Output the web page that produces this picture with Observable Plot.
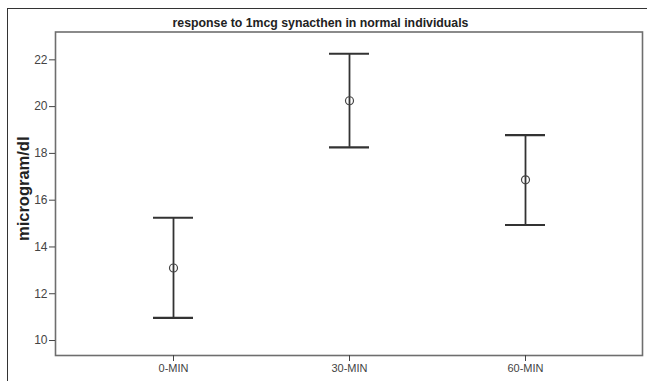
<!DOCTYPE html>
<html>
<head>
<meta charset="utf-8">
<script src="https://cdn.jsdelivr.net/npm/d3@7"></script>
<script src="https://cdn.jsdelivr.net/npm/@observablehq/plot@0.6"></script>
<style>
  html, body { margin: 0; padding: 0; background: #fff; overflow: hidden; }
  #wrap { position: relative; width: 647px; height: 381px; overflow: hidden; }
  #outer { position: absolute; left: 7px; top: 8px; width: 700px; height: 420px;
           border-left: 1.5px solid #333; border-top: 1.5px solid #333; }
  #title { position: absolute; left: -3px; top: 15.5px; width: 647px; text-align: center;
           font: bold 12.3px "Liberation Sans", Arial, sans-serif; color: #222; line-height: 14px; }
  #chart { position: absolute; left: 0; top: 0; }
</style>
</head>
<body>
<div id="wrap">
  <div id="outer"></div>
  <div id="chart"></div>
  <div id="title">response to 1mcg synacthen in normal individuals</div>
</div>
<script>
const times = ["0-MIN", "30-MIN", "60-MIN"];
const means = [13.1, 20.25, 16.87];
const lower = [10.97, 18.26, 14.94];
const upper = [15.25, 22.26, 18.78];
const yTicks = [10, 12, 14, 16, 18, 20, 22];
const yLabel = "microgram/dl";

const data = times.map((t, i) => ({t, m: means[i], lo: lower[i], hi: upper[i]}));

const chart = Plot.plot({
  width: 647,
  height: 381,
  marginLeft: 55,
  marginRight: 5,
  marginTop: 31.5,
  marginBottom: 26,
  style: {fontFamily: "'Liberation Sans', Arial, sans-serif", background: "transparent"},
  x: {type: "band", domain: times, paddingInner: 0.773, paddingOuter: 0.553, label: null},
  y: {domain: [9.36, 23.19], label: null},
  marks: [
    Plot.frame({stroke: "#6e6e6e", strokeWidth: 1.6}),
    Plot.axisY({ticks: yTicks, tickSize: 6, tickPadding: 2, fontSize: 12, color: "#444", label: null}),
    Plot.axisX({tickSize: 6, tickPadding: 3, fontSize: 11, color: "#444", label: null}),
    Plot.ruleX(data, {x: "t", y1: "lo", y2: "hi", stroke: "#333", strokeWidth: 1.8}),
    Plot.tickY(data, {x: "t", y: "lo", stroke: "#333", strokeWidth: 2.2}),
    Plot.tickY(data, {x: "t", y: "hi", stroke: "#333", strokeWidth: 2.2}),
    Plot.dot(data, {x: "t", y: "m", r: 4, stroke: "#444", fill: "none", strokeWidth: 1.2}),
    Plot.text([yLabel], {frameAnchor: "left", textAnchor: "middle", dx: -32, dy: -5, rotate: -90,
                         fontSize: 16.5, fontWeight: "bold", fill: "#222"})
  ]
});
document.getElementById("chart").appendChild(chart);
</script>
</body>
</html>
